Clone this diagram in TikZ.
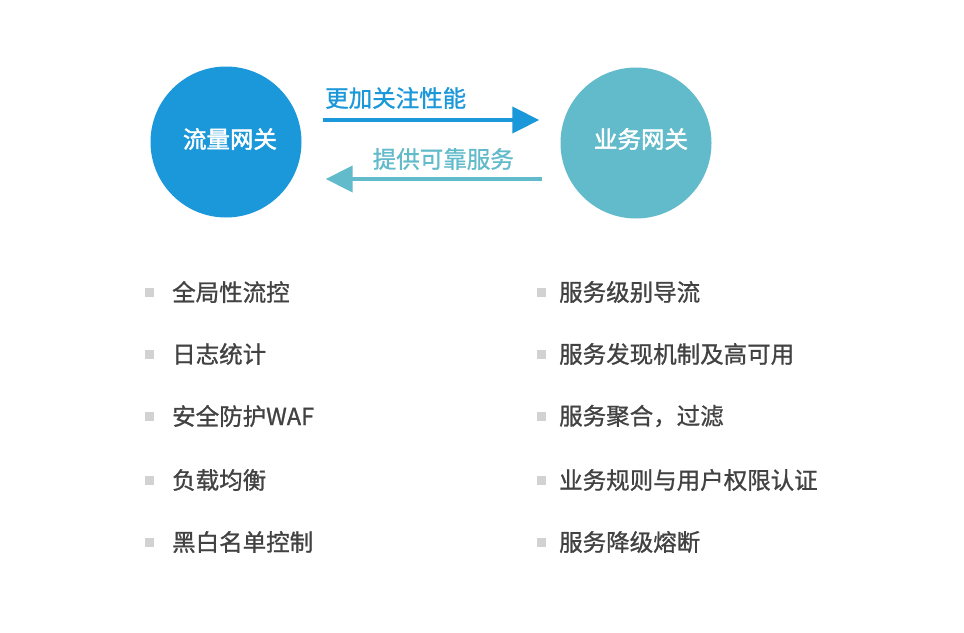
\documentclass[tikz,border=0pt]{standalone}
\usepackage{fontspec}
\newfontfamily\cjk[FakeBold=1]{Noto Sans CJK SC}
\newfontfamily\cjkhead[FakeBold=2]{Noto Sans CJK SC}
\usepackage{xcolor}
\usepackage{tikz}
\usetikzlibrary{positioning,arrows.meta,calc}

\definecolor{flowblue}{RGB}{27,152,218}
\definecolor{bizteal}{RGB}{98,187,202}
\definecolor{itemgray}{RGB}{66,66,66}
\definecolor{dotgray}{RGB}{210,210,210}

\tikzset{
  gw/.style={circle, minimum size=151pt, inner sep=0pt, text=white,
    font=\cjkhead\fontsize{23.5}{28}\selectfont},
  flowlabel/.style={font=\cjk\fontsize{23.5}{28}\selectfont, inner sep=0pt},
  fwd/.style={line width=4pt, -{Triangle[length=27pt,width=26pt]}},
  dot/.style={rectangle, fill=dotgray, minimum size=9pt, inner sep=0pt},
  item/.style={anchor=west, inner sep=0pt, text=itemgray,
    font=\cjk\fontsize{23.5}{28}\selectfont}
}

\begin{document}
\begin{tikzpicture}[x=1pt,y=-1pt]
\useasboundingbox[fill=white] (0,0) rectangle (964,632);

% the two gateways
\node[gw, fill=flowblue] (flow) at (226,142) {};
\node[gw, fill=bizteal] (biz) at (636,143) {};
\node[gw, minimum size=0pt] (flowname) at (230,139) {流量网关};
\node[gw, minimum size=0pt] (bizname) at (641,139) {业务网关};

% arrows between them
\coordinate (fa) at ($(flow.east)+(21,-22)$);
\coordinate (fb) at ($(biz.west)+(-21,-23)$);
\coordinate (ba) at ($(biz.west)+(-18,36)$);
\coordinate (bb) at ($(flow.east)+(24,37)$);
\draw[fwd, flowblue] (fa) -- (fb);
\draw[fwd, bizteal] (ba) -- (bb);
\node[flowlabel, text=flowblue, anchor=west] (more) at (325,98) {更加关注性能};
\node[flowlabel, text=bizteal, anchor=east] (serve) at (514,159) {提供可靠服务};

% traffic gateway duties
\node[dot] (l1) at (149,292) {};
\node[dot] (l2) at (149,354) {};
\node[dot] (l3) at (149,416) {};
\node[dot] (l4) at (149,480) {};
\node[dot] (l5) at (149,542) {};
\node[item] (t1) at (172,292) {全局性流控};
\node[item] (t2) at (172,354) {日志统计};
\node[item] (t3) at (172,416) {安全防护WAF};
\node[item] (t4) at (172,480) {负载均衡};
\node[item] (t5) at (172,542) {黑白名单控制};

% business gateway duties
\node[dot] (r1) at (541,292) {};
\node[dot] (r2) at (541,354) {};
\node[dot] (r3) at (541,416) {};
\node[dot] (r4) at (541,480) {};
\node[dot] (r5) at (541,542) {};
\node[item] (s1) at (559,292) {服务级别导流};
\node[item] (s2) at (559,354) {服务发现机制及高可用};
\node[item] (s3) at (559,416) {服务聚合，过滤};
\node[item] (s4) at (559,480) {业务规则与用户权限认证};
\node[item] (s5) at (559,542) {服务降级熔断};
\end{tikzpicture}
\end{document}
